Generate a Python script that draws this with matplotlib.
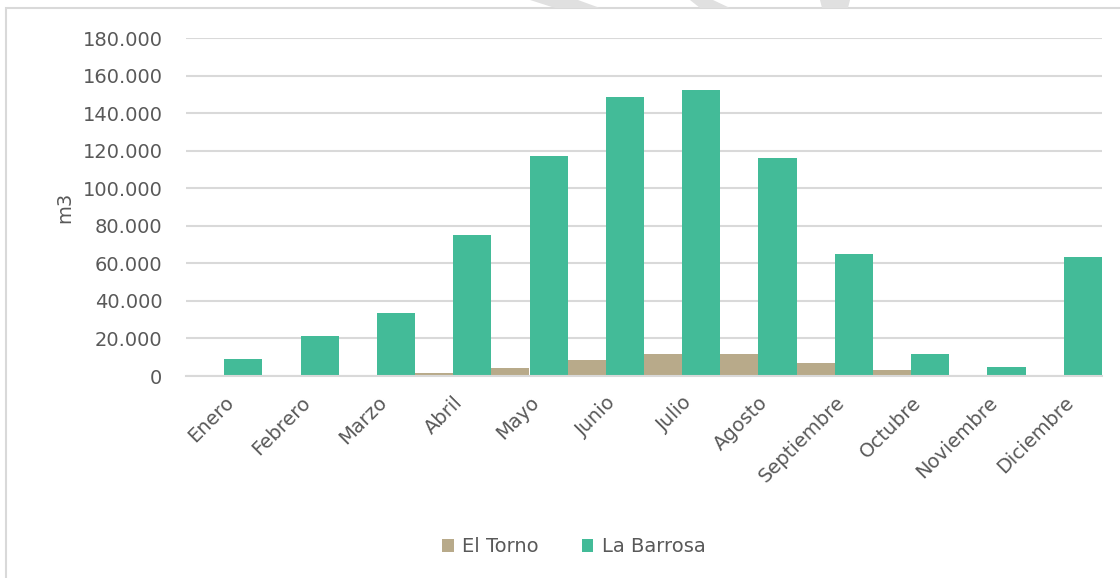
import matplotlib
matplotlib.use("Agg")
import matplotlib.pyplot as plt
import numpy as np
from matplotlib.patches import Polygon, Rectangle
from matplotlib.ticker import FuncFormatter

# datos (m3 por mes)
meses = ["Enero", "Febrero", "Marzo", "Abril", "Mayo", "Junio", "Julio",
         "Agosto", "Septiembre", "Octubre", "Noviembre", "Diciembre"]
el_torno = [0, 0, 400, 1700, 4400, 8400, 11900, 11600, 6800, 3300, 600, 300]
la_barrosa = [8800, 21200, 33600, 75300, 117300, 148500, 152300, 116300, 65200, 11900, 4600, 63400]

color_et = "#B8AA8A"
color_lb = "#43BB98"
gris_txt = "#595959"
gris_lin = "#D9D9D9"

W, H = 1120, 578
fig = plt.figure(figsize=(W / 100, H / 100), dpi=100)
ax = fig.add_axes([186 / W, 1 - 376 / H, (1102 - 186) / W, (376 - 38) / H])

x = np.arange(len(meses))
ancho = 0.5
ax.bar(x - ancho / 2, el_torno, ancho, color=color_et, label="El Torno")
ax.bar(x + ancho / 2, la_barrosa, ancho, color=color_lb, label="La Barrosa")

ax.set_xlim(-0.5, len(meses) - 0.5)
ax.set_ylim(0, 180000)
ax.set_yticks(np.arange(0, 180001, 20000))
ax.yaxis.set_major_formatter(FuncFormatter(lambda v, p: f"{int(v):,}".replace(",", ".")))
ax.grid(axis="y", color=gris_lin, linewidth=1.5)
ax.set_axisbelow(True)
for s in ["top", "right", "left"]:
    ax.spines[s].set_visible(False)
ax.spines["bottom"].set_color(gris_lin)
ax.spines["bottom"].set_linewidth(1.5)
ax.tick_params(length=0, labelsize=14, colors=gris_txt)
ax.tick_params(axis="y", pad=17)
ax.set_xticks(x)
ax.set_xticklabels(meses, rotation=45, ha="right", rotation_mode="anchor")
ax.tick_params(axis="x", pad=12)
ax.set_ylabel("m3", fontsize=14, color=gris_txt, labelpad=6)

leg = fig.legend(loc="center", bbox_to_anchor=(574 / W, 1 - 547 / H), ncol=2,
                 frameon=False, fontsize=14, handlelength=0.6, handleheight=0.6,
                 handletextpad=0.45, columnspacing=2.2)
for t in leg.get_texts():
    t.set_color(gris_txt)

# borde del gráfico
fig.patches.append(Rectangle((6 / W, -0.1), 1.2, 1 - 8 / H + 0.1, transform=fig.transFigure,
                             fill=False, edgecolor=gris_lin, linewidth=1.5))

# trazos de marca de agua en la parte superior
trazos = [
    [(530, 0), (578, 0), (600, 8), (555, 8)],
    [(690, 0), (713, 0), (730, 8), (700, 8)],
    [(820, 0), (850, 0), (848, 8), (822, 8)],
]
for tr in trazos:
    pts = [(px / W, 1 - py / H) for px, py in tr]
    fig.patches.append(Polygon(pts, closed=True, transform=fig.transFigure,
                               facecolor="#E0E0E0", edgecolor="none"))

fig.savefig("out.png", dpi=100)
